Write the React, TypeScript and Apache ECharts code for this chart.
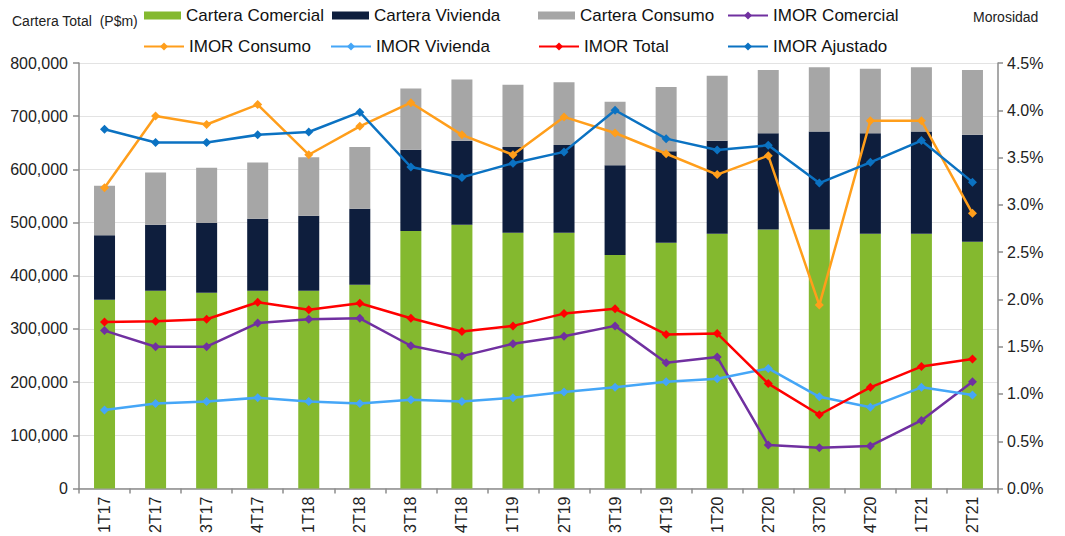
import React, { useEffect, useRef } from "react";
import * as echarts from "echarts";

const categories = ["1T17", "2T17", "3T17", "4T17", "1T18", "2T18", "3T18", "4T18", "1T19", "2T19", "3T19", "4T19", "1T20", "2T20", "3T20", "4T20", "1T21", "2T21"];

const carteraComercial = [355000, 372000, 368000, 372000, 372000, 383000, 484000, 496000, 481000, 481000, 439000, 462000, 479000, 487000, 487000, 479000, 479000, 464000];
const carteraVivienda = [121000, 124000, 131000, 135000, 141000, 143000, 153000, 158000, 161000, 165000, 169000, 172000, 175000, 181000, 184000, 189000, 192000, 201000];
const carteraConsumo = [93000, 98000, 104000, 106000, 110000, 116000, 115000, 115000, 117000, 118000, 119000, 121000, 122000, 119000, 121000, 121000, 121000, 122000];

const imorComercial = [1.67, 1.50, 1.50, 1.75, 1.79, 1.80, 1.51, 1.40, 1.53, 1.61, 1.72, 1.33, 1.39, 0.46, 0.43, 0.45, 0.72, 1.13];
const imorConsumo = [3.18, 3.94, 3.85, 4.06, 3.53, 3.83, 4.08, 3.74, 3.53, 3.93, 3.76, 3.54, 3.32, 3.52, 1.94, 3.89, 3.89, 2.91];
const imorVivienda = [0.83, 0.90, 0.92, 0.96, 0.92, 0.90, 0.94, 0.92, 0.96, 1.02, 1.07, 1.13, 1.16, 1.27, 0.97, 0.86, 1.07, 0.99];
const imorTotal = [1.76, 1.77, 1.79, 1.97, 1.89, 1.96, 1.80, 1.66, 1.72, 1.85, 1.90, 1.63, 1.64, 1.11, 0.78, 1.07, 1.29, 1.37];
const imorAjustado = [3.80, 3.66, 3.66, 3.74, 3.77, 3.98, 3.40, 3.29, 3.44, 3.56, 4.00, 3.70, 3.58, 3.63, 3.23, 3.45, 3.68, 3.24];

const FONT = "'Liberation Sans', Arial, sans-serif";

const COLORS = {
  comercial: "#84B92F",
  vivienda: "#0E1E3D",
  consumo: "#A6A6A6",
  imorComercial: "#7030A0",
  imorConsumo: "#FF9E1B",
  imorVivienda: "#45A6F7",
  imorTotal: "#FF0000",
  imorAjustado: "#0B72C2",
};

export default function App() {
  const ref = useRef<HTMLDivElement>(null);

  useEffect(() => {
    if (!ref.current) return;
    const chart = echarts.init(ref.current, undefined, { renderer: "svg" });

    const legendItem = (name: string, left: number, top: number, isBar: boolean) => ({
      show: true,
      left,
      top,
      padding: 0,
      data: [name],
      selectedMode: false,
      itemWidth: isBar ? 37 : 40,
      itemHeight: isBar ? 8 : 10,
      icon: isBar ? "rect" : undefined,
      textStyle: { fontFamily: FONT, fontSize: 17, color: "#111", lineHeight: 20 },
    });

    const lineSeries = (name: string, data: number[], color: string) => ({
      name,
      type: "line",
      yAxisIndex: 1,
      data,
      symbol: "diamond",
      symbolSize: 9,
      lineStyle: { color, width: 2.5 },
      itemStyle: { color },
      z: 3,
    });

    const option = {
      animation: false,
      backgroundColor: "#ffffff",
      textStyle: { fontFamily: FONT },
      grid: { left: 79, right: 67, top: 63, bottom: 47, containLabel: false },
      legend: [
        legendItem("Cartera Comercial", 144, 5.5, true),
        legendItem("Cartera Vivienda", 332, 5.5, true),
        legendItem("Cartera Consumo", 538, 5.5, true),
        legendItem("IMOR Comercial", 727, 5.5, false),
        legendItem("IMOR Consumo", 143, 36.5, false),
        legendItem("IMOR Vivienda", 330, 36.5, false),
        legendItem("IMOR Total", 538, 36.5, false),
        legendItem("IMOR Ajustado", 727, 36.5, false),
      ],
      graphic: [
        {
          type: "text",
          left: 12,
          top: 14,
          style: { text: "Cartera Total  (P$m)", font: `14px ${FONT}`, fill: "#222" },
        },
        {
          type: "text",
          left: 973,
          top: 10,
          style: { text: "Morosidad", font: `14px ${FONT}`, fill: "#222" },
        },
      ],
      xAxis: {
        type: "category",
        data: categories,
        boundaryGap: true,
        axisLine: { show: true, lineStyle: { color: "#8c8c8c", width: 1.5 } },
        axisTick: { show: true, length: 5, lineStyle: { color: "#8c8c8c", width: 1.5 } },
        axisLabel: { rotate: 90, margin: 8, fontSize: 16, color: "#222", fontFamily: FONT },
      },
      yAxis: [
        {
          type: "value",
          min: 0,
          max: 800000,
          interval: 100000,
          axisLine: { show: true, lineStyle: { color: "#8c8c8c", width: 1.5 } },
          axisTick: { show: true, length: 6, lineStyle: { color: "#8c8c8c", width: 1.5 } },
          splitLine: { show: true, lineStyle: { color: "#e3e3e3", width: 1 } },
          axisLabel: {
            fontSize: 16,
            color: "#222",
            fontFamily: FONT,
            margin: 11,
            formatter: (v: number) => v.toLocaleString("en-US"),
          },
        },
        {
          type: "value",
          min: 0,
          max: 4.5,
          interval: 0.5,
          position: "right",
          axisLine: { show: true, lineStyle: { color: "#8c8c8c", width: 1.5 } },
          axisTick: { show: true, length: 5, lineStyle: { color: "#8c8c8c", width: 1.5 } },
          splitLine: { show: false },
          axisLabel: {
            fontSize: 16,
            color: "#222",
            fontFamily: FONT,
            margin: 9,
            formatter: (v: number) => v.toFixed(1) + "%",
          },
        },
      ],
      series: [
        { name: "Cartera Comercial", type: "bar", stack: "cartera", barWidth: 21, data: carteraComercial, itemStyle: { color: COLORS.comercial } },
        { name: "Cartera Vivienda", type: "bar", stack: "cartera", barWidth: 21, data: carteraVivienda, itemStyle: { color: COLORS.vivienda } },
        { name: "Cartera Consumo", type: "bar", stack: "cartera", barWidth: 21, data: carteraConsumo, itemStyle: { color: COLORS.consumo } },
        lineSeries("IMOR Comercial", imorComercial, COLORS.imorComercial),
        lineSeries("IMOR Consumo", imorConsumo, COLORS.imorConsumo),
        lineSeries("IMOR Vivienda", imorVivienda, COLORS.imorVivienda),
        lineSeries("IMOR Total", imorTotal, COLORS.imorTotal),
        lineSeries("IMOR Ajustado", imorAjustado, COLORS.imorAjustado),
      ],
    };

    chart.setOption(option as any);
    return () => chart.dispose();
  }, []);

  return <div ref={ref} style={{ position: "absolute", left: 0, top: 0, width: 1065, height: 536 }} />;
}
